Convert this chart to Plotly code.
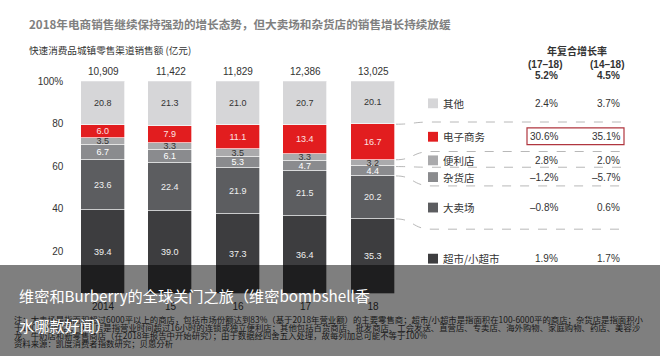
import plotly.graph_objects as go

# ---------------- data ----------------
years = ["2014", "15", "16", "17", "18"]
totals = ["10,909", "11,422", "11,829", "12,386", "13,025"]
channels = ["超市/小超市", "大卖场", "杂货店", "便利店", "电子商务", "其他"]
supermarket = [39.4, 39.0, 37.3, 36.4, 35.3]
hypermarket = [23.6, 22.4, 21.9, 21.5, 20.2]
grocery = [6.7, 6.1, 5.3, 4.7, 4.4]
convenience = [3.5, 3.3, 3.5, 3.3, 3.2]
ecommerce = [6.0, 7.9, 11.1, 13.4, 16.7]
other = [20.8, 21.3, 21.0, 20.7, 20.1]
cagr_17_18 = ["1.9%", "–0.8%", "–1.2%", "2.8%", "30.6%", "2.4%"]
cagr_14_18 = ["1.7%", "0.6%", "–5.7%", "2.0%", "35.1%", "3.7%"]
cagr_total = ["5.2%", "4.5%"]
y_ticks = [20, 40, 60, 80, 100]
y_tick_text = ["20", "40", "60", "80", "100%"]

title = "2018年电商销售继续保持强劲的增长态势，但大卖场和杂货店的销售增长持续放缓"
subtitle = "快速消费品城镇零售渠道销售额 (亿元)"
overlay_title = ["维密和Burberry的全球关门之旅（维密bombshell香", "水哪款好闻）"]
notes = [
    "注：大卖场是指面积超过6000平以上的商店，包括市场份额达到83%（基于2018年营业额）的主要零售商；超市/小超市是指面积在100-6000平的商店；杂货店是指面积小",
    "于100平的商店；便利店是指营业时间超过16小时的连锁或独立便利店；其他包括百货商店、批发商店、工会发送、直营店、专卖店、海外购物、家庭购物、药店、美容沙",
    "龙、牛奶店和新零售商店（在2018年报告中开始研究）；由于数据经四舍五入处理，故每列加总可能不等于100%",
    "资料来源：凯度消费者指数研究；贝恩分析",
]

series = [supermarket, hypermarket, grocery, convenience, ecommerce, other]

# ---------------- style ----------------
W, H = 660, 356
FONT = "Liberation Sans, Arial, Noto Sans CJK SC, sans-serif"
CJK = "Noto Sans CJK SC, Liberation Sans, sans-serif"
colors = ["#3d3d3f", "#5c5d60", "#8a8b8e", "#aaaaac", "#e21d1f", "#d6d6d8"]
text_colors = ["#f0f0f0", "#f0f0f0", "#ffffff", "#333333", "#fbe3e3", "#333333"]
legend_y = [257, 205, 174, 157, 133, 99]   # pixel rows of the table
table_lines = [118, 148, 164, 183, 227]

XD = (69.25 / W, 406.75 / W)
YD = ((H - 293) / H, (H - 76.5) / H)
BARW = 0.652


def px(x):
    return x / W


def py(y):
    return 1 - y / H


def note(x, y, text, font, xanchor="left", **kw):
    d = dict(x=px(x), y=py(y), xref="paper", yref="paper", xanchor=xanchor,
             yanchor="middle", text=text, showarrow=False, font=font)
    d.update(kw)
    return d


fig = go.Figure()
for name, vals, c, tc in zip(channels, series, colors, text_colors):
    fig.add_trace(go.Bar(
        x=list(range(len(years))), y=vals, name=name,
        marker=dict(color=c, line=dict(color="rgba(255,255,255,0.85)", width=0.8)),
        width=BARW,
        texttemplate="%{y:.1f}", textposition="inside", insidetextanchor="middle",
        textangle=0, constraintext="none",
        textfont=dict(family=FONT, size=9, color=tc),
        hoverinfo="skip", showlegend=False,
    ))

annotations = []
shapes = []

# totals above bars
for i, t in enumerate(totals):
    annotations.append(dict(x=i, y=100, xref="x", yref="y", text=t, showarrow=False,
                            xanchor="center", yanchor="bottom", yshift=2,
                            font=dict(family=FONT, size=10, color="#333333")))

# titles
annotations.append(note(27, 18, "<b>" + title + "</b>",
                        dict(family=CJK, size=11.6, color="#808080")))
annotations.append(note(27, 45, subtitle, dict(family=CJK, size=9.6, color="#333333")))

# table header
hdr_font = dict(family=FONT, size=10, color="#333333")
annotations.append(note(577, 45, "<b>年复合增长率</b>", dict(family=CJK, size=10, color="#333333"),
                        xanchor="center"))
annotations.append(note(545, 59, "<b>(17–18)</b>", hdr_font, xanchor="center"))
annotations.append(note(607, 59, "<b>(14–18)</b>", hdr_font, xanchor="center"))
annotations.append(note(560, 71, "<b>" + cagr_total[0] + "</b>", hdr_font, xanchor="right"))
annotations.append(note(622, 71, "<b>" + cagr_total[1] + "</b>", hdr_font, xanchor="right"))

# table rows
row_font = dict(family=FONT, size=10, color="#333333")
for name, c, yy, a, b in zip(channels, colors, legend_y, cagr_17_18, cagr_14_18):
    shapes.append(dict(type="rect", xref="paper", yref="paper", x0=px(428), x1=px(438),
                       y0=py(yy - 5), y1=py(yy + 5), fillcolor=c, line=dict(width=0)))
    annotations.append(note(441, yy, name, dict(family=CJK, size=10.5, color="#333333")))
    annotations.append(note(560, yy, a, row_font, xanchor="right"))
    annotations.append(note(622, yy, b, row_font, xanchor="right"))

# red highlight box around e-commerce row
shapes.append(dict(type="rect", xref="paper", yref="paper", x0=px(527), x1=px(624),
                   y0=py(141), y1=py(124), line=dict(color="#b0363f", width=1.2)))

# dashed connectors from last bar to the table
last = len(years) - 1
cum = []
s = 0
for vals in series:
    s += vals[last]
    cum.append(s)
bounds = [cum[4], cum[3], cum[2], cum[1], cum[0]]
x_edge = XD[0] + (last + 0.5 + BARW / 2) / len(years) * (XD[1] - XD[0])
for bv, ty in zip(bounds, table_lines):
    yb = YD[0] + bv / 100 * (YD[1] - YD[0])
    yt = py(ty)
    x0 = x_edge + px(1)
    path = (f"M {x0},{yb} C {x0 + px(18)},{yb} {px(412)},{yt} {px(432)},{yt} "
            f"L {px(625)},{yt}")
    shapes.append(dict(type="path", xref="paper", yref="paper", path=path,
                       line=dict(color="#b8b8b8", width=1, dash="dash")))

# notes (under the overlay)
for i, line in enumerate(notes):
    annotations.append(note(13, 318 + i * 8.4, line,
                            dict(family=CJK, size=8.4, color="#333333"), borderpad=0))

# translucent overlay band
annotations.append(dict(x=0, y=0, xref="paper", yref="paper", xanchor="left", yanchor="bottom",
                        text=" ", showarrow=False, width=W, height=H - 265, borderpad=0,
                        borderwidth=0, bgcolor="rgba(0,0,0,0.5)"))
# overlay headline
for i, line in enumerate(overlay_title):
    annotations.append(note(17, 294 + i * 30, line, dict(family=CJK, size=15.2, color="#ffffff")))

fig.update_layout(
    width=W, height=H, barmode="stack", bargap=0,
    margin=dict(l=0, r=0, t=0, b=0),
    paper_bgcolor="white", plot_bgcolor="white",
    xaxis=dict(domain=list(XD), range=[-0.5, len(years) - 0.5],
               tickvals=list(range(len(years))), ticktext=years,
               showgrid=False, zeroline=False, showline=False, ticks="",
               ticklabelstandoff=5,
               tickfont=dict(family=FONT, size=10, color="#333333")),
    yaxis=dict(domain=list(YD), range=[0, 100], tickvals=y_ticks, ticktext=y_tick_text,
               showgrid=False, zeroline=False, showline=False, ticks="",
               ticklabelstandoff=5,
               tickfont=dict(family=FONT, size=10, color="#333333")),
    annotations=annotations, shapes=shapes,
)

fig.write_html("out.html", config={"displayModeBar": False},
               post_script=["document.body.style.margin='0px';"])
